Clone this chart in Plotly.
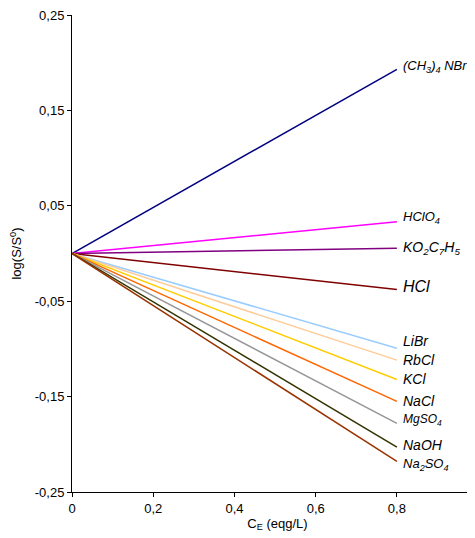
import plotly.graph_objects as go

# Data
x_vals = [0.0, 0.8]
series_names = ["(CH3)4NBr", "HClO4", "KO2C7H5", "HCl", "LiBr", "RbCl",
                "KCl", "NaCl", "MgSO4", "NaOH", "Na2SO4"]
end_values = [0.193, 0.0333, 0.0055, -0.0378, -0.0993, -0.1118,
              -0.132, -0.155, -0.178, -0.203, -0.218]
label_texts = ["(CH<sub>3</sub>)<sub>4</sub> NBr", "HClO<sub>4</sub>",
               "KO<sub>2</sub>C<sub>7</sub>H<sub>5</sub>", "HCl", "LiBr", "RbCl",
               "KCl", "NaCl", "MgSO<sub>4</sub>", "NaOH", "Na<sub>2</sub>SO<sub>4</sub>"]
y_tick_vals = [-0.25, -0.15, -0.05, 0.05, 0.15, 0.25]
y_tick_text = ["-0,25", "-0,15", "-0,05", "0,05", "0,15", "0,25"]
x_tick_vals = [0, 0.2, 0.4, 0.6, 0.8]
x_tick_text = ["0", "0,2", "0,4", "0,6", "0,8"]

# Styles
colors = ["#000080", "#FF00FF", "#800080", "#800000", "#99CCFF", "#FFCC99",
          "#FFCC00", "#FF6600", "#969696", "#333300", "#993300"]
label_sizes = [13, 13, 14, 16, 14, 14, 14, 14, 12, 14, 13]
label_yshift = [3, 4, 0, 3, 7, 0, 0, 0, 3, 2, -3]

fig = go.Figure()
for name, v, c in zip(series_names, end_values, colors):
    fig.add_trace(go.Scatter(x=x_vals, y=[0.0, v], mode="lines",
                             line=dict(color=c, width=1.5), name=name,
                             showlegend=False, hoverinfo="skip"))

for txt, v, s, sh in zip(label_texts, end_values, label_sizes, label_yshift):
    fig.add_annotation(x=0.8, y=v, xref="x", yref="y", text="<i>" + txt + "</i>",
                       showarrow=False, xanchor="left", yanchor="middle",
                       xshift=4, yshift=sh,
                       font=dict(family="Liberation Sans, Arial", size=s, color="black"))

fig.update_layout(
    width=475, height=530,
    margin=dict(l=64, r=0, t=4, b=46),
    paper_bgcolor="white", plot_bgcolor="white",
    font=dict(family="Liberation Sans, Arial", size=13, color="black"),
    xaxis=dict(range=[0, 1.012], tickvals=x_tick_vals, ticktext=x_tick_text,
               showgrid=False, zeroline=False, showline=True, linecolor="black",
               linewidth=1, ticks="outside", ticklen=4, tickcolor="black",
               title=dict(text="C<sub>E</sub> (eqg/L)", font=dict(size=13), standoff=2)),
    yaxis=dict(range=[-0.25, 0.25], tickvals=y_tick_vals, ticktext=y_tick_text,
               showgrid=False, zeroline=False, showline=True, linecolor="black",
               linewidth=1, ticks="outside", ticklen=4, tickcolor="black",
               ticklabeloverflow="allow",
               title=dict(text="log(S/S<sup>0</sup>)", font=dict(size=13), standoff=10)),
)

fig.write_html("out.html")
